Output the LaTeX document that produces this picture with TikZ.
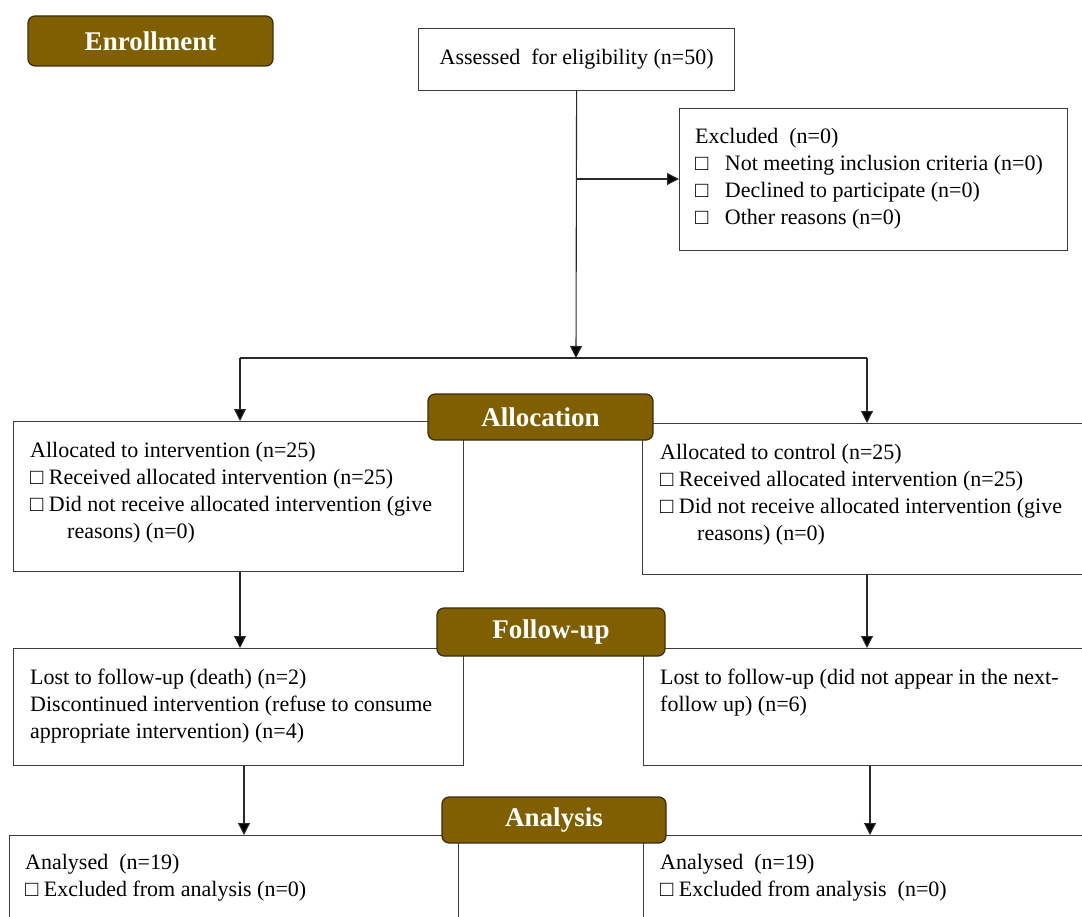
\documentclass[tikz,border=0pt]{standalone}
\usepackage{fontspec}
\setmainfont{Liberation Serif}
\usetikzlibrary{arrows.meta}
\definecolor{labfill}{HTML}{7F5F00}
\definecolor{labdraw}{HTML}{3A2E10}
\definecolor{boxdraw}{HTML}{3C3C3C}
\definecolor{linecol}{HTML}{2A2A2A}
\newcommand\sq{□}
\begin{document}
\begin{tikzpicture}[x=1pt,y=-1pt,
  box/.style={draw=boxdraw, line width=1.2pt, fill=white, rectangle, inner sep=0pt, anchor=north west},
  lab/.style={draw=labdraw, line width=1.2pt, fill=labfill, rounded corners=7pt, text=white,
    font=\fontsize{27}{30}\selectfont\bfseries, inner sep=0pt},
  txt/.style={anchor=north west, inner sep=0pt, align=left, font=\fontsize{22}{27}\selectfont},
  arr/.style={draw=linecol, line width=1.1pt, -{Triangle[length=12pt,width=12pt,fill=black]}},
  ln/.style={draw=linecol, line width=1.1pt}
]
\useasboundingbox (0,0) rectangle (1082,917);
\clip (0,0) rectangle (1082,917);
\fill[white] (0,0) rectangle (1082,917);

% boxes
\node[box, minimum width=316pt, minimum height=62pt, anchor=north west, font=\fontsize{22}{27}\selectfont] (assess) at (418,28) {Assessed\ \ for eligibility (n=50)};
\node[box, minimum width=388pt, minimum height=142pt] (excl) at (679,108) {};
\node[txt] (excltxt) at (695,128) {Excluded\ \ (n=0)\\
\sq\ \ \ Not meeting inclusion criteria (n=0)\\
\sq\ \ \ Declined to participate (n=0)\\
\sq\ \ \ Other reasons (n=0)};

\node[box, minimum width=450pt, minimum height=150pt] (allocL) at (13,421) {};
\node[txt] (allocLtxt) at (30,442) {Allocated to intervention (n=25)\\
\sq\ Received allocated intervention (n=25)\\
\sq\ Did not receive allocated intervention (give\\
\hspace*{37pt}reasons) (n=0)};

\node[box, minimum width=460pt, minimum height=151pt] (allocR) at (642,423) {};
\node[txt] (allocRtxt) at (660,444) {Allocated to control (n=25)\\
\sq\ Received allocated intervention (n=25)\\
\sq\ Did not receive allocated intervention (give\\
\hspace*{37pt}reasons) (n=0)};

\node[box, minimum width=450pt, minimum height=117pt] (fuL) at (13,648) {};
\node[txt] (fuLtxt) at (30,669) {Lost to follow-up (death) (n=2)\\
Discontinued intervention (refuse to consume\\
appropriate intervention) (n=4)};

\node[box, minimum width=460pt, minimum height=117pt] (fuR) at (643,648) {};
\node[txt] (fuRtxt) at (660,669) {Lost to follow-up (did not appear in the next-\\
follow up) (n=6)};

\node[box, minimum width=449pt, minimum height=120pt] (anL) at (9,835) {};
\node[txt] (anLtxt) at (25,854) {Analysed\ \ (n=19)\\
\sq\ Excluded from analysis (n=0)};

\node[box, minimum width=460pt, minimum height=120pt] (anR) at (643,835) {};
\node[txt] (anRtxt) at (660,854) {Analysed\ \ (n=19)\\
\sq\ Excluded from analysis\ \ (n=0)};

% connectors
\coordinate (split) at (576,358);
\coordinate (bx) at (576,179);
\coordinate (splitL) at (240,358);
\coordinate (splitR) at (867,358);
\coordinate (cL1) at (240,0);
\coordinate (cR1) at (867,0);
\coordinate (cL2) at (244,0);
\coordinate (cR2) at (870,0);

\draw[arr] (assess.south) -- (split);
\draw[arr] (bx) -- (excl.west |- bx);
\draw[ln] (splitL) -- (splitR);
\draw[arr] (splitL) -- (allocL.north -| splitL);
\draw[arr] (splitR) -- (allocR.north -| splitR);
\draw[arr] (allocL.south -| cL1) -- (fuL.north -| cL1);
\draw[arr] (allocR.south -| cR1) -- (fuR.north -| cR1);
\draw[arr] (fuL.south -| cL2) -- (anL.north -| cL2);
\draw[arr] (fuR.south -| cR2) -- (anR.north -| cR2);

% stage labels
\node[lab, minimum width=245pt, minimum height=50pt] (enroll) at (150.5,41) {Enrollment};
\node[lab, minimum width=225pt, minimum height=46pt] (alloc) at (540.5,417) {Allocation};
\node[lab, minimum width=228pt, minimum height=48pt] (fu) at (551,632) {Follow-up};
\node[lab, minimum width=224pt, minimum height=46pt] (an) at (554,820) {Analysis};
\end{tikzpicture}
\end{document}
